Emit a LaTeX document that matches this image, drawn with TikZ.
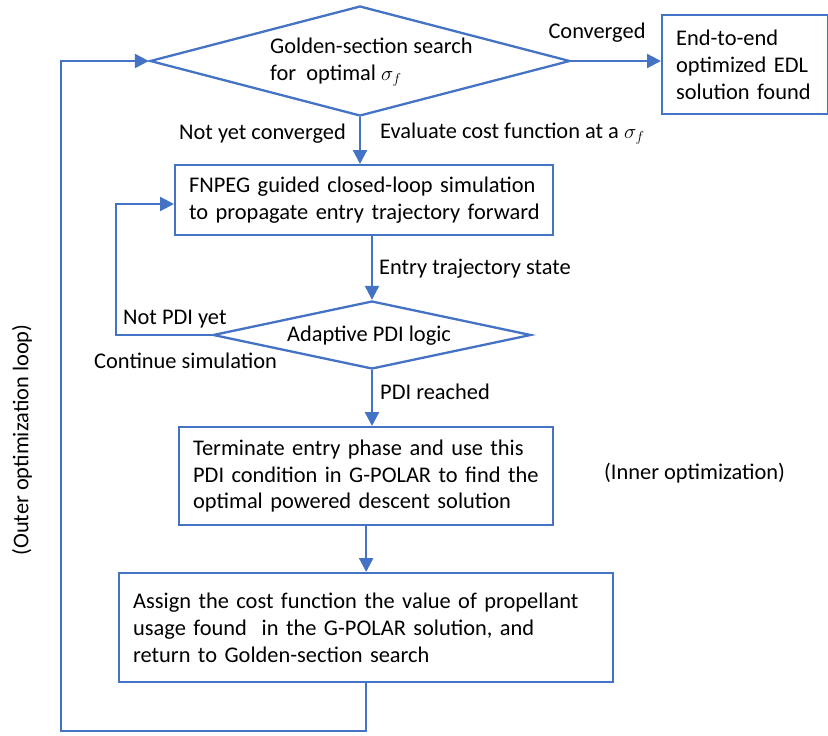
\documentclass[tikz,border=0pt]{standalone}
\usepackage{fontspec}
\setmainfont{Carlito}
\usetikzlibrary{arrows.meta,shapes.geometric}
\definecolor{flow}{RGB}{68,114,196}
\newcommand{\fs}{\fontsize{22.4}{26.7}\selectfont}
% one unbreakable text line inside a process box
\newcommand{\bline}[1]{\mbox{#1}}
\begin{document}
\begin{tikzpicture}[x=1pt,y=-1pt,
  line/.style={draw=flow,line width=2.3pt},
  arr/.style={line,-{Triangle[length=14pt,width=14pt]}},
  box/.style={draw=flow,line width=2.3pt,fill=white,anchor=north west,align=left,
    inner xsep=14pt,inner ysep=0pt,font=\fs},
  decision/.style={draw=flow,line width=2.3pt,fill=white,shape=diamond,inner sep=0pt},
  lbl/.style={font=\fs,inner sep=0pt}]
\useasboundingbox (0,0) rectangle (828,736);

% decisions (outline only, text set separately)
\node[decision,minimum width=420pt,minimum height=110pt] (d1) at (360,61) {};
\node[decision,minimum width=318pt,minimum height=68pt] (d2) at (372,335) {};
\node[lbl,anchor=west,align=left] (d1t) at (270,62)
  {Golden-section search\\for\ \ optimal $\sigma_f$};
\node[lbl] (d2t) at (369,336) {Adaptive PDI logic};

% process boxes
\node[box,minimum width=166pt,minimum height=99pt,text width=138pt] (b1) at (661,14)
  {\bline{End-to-end}\\\bline{optimized EDL}\\\bline{solution found}};
\node[box,minimum width=378pt,minimum height=70pt,text width=350pt] (b2) at (174,164)
  {\bline{FNPEG guided closed-loop simulation}\\\bline{to propagate entry trajectory forward}};
\node[box,minimum width=374pt,minimum height=98pt,text width=346pt] (b3) at (178,426)
  {\bline{Terminate entry phase and use this}\\\bline{PDI condition in G-POLAR to find the}\\\bline{optimal powered descent solution}};
\node[box,minimum width=494pt,minimum height=109pt,text width=466pt] (b4) at (118,572)
  {\bline{Assign the cost function the value of propellant}\\\bline{usage found\ \ in the G-POLAR solution, and}\\\bline{return to Golden-section search}};

% connectors
\coordinate (lb) at (61,731);
\coordinate (lc) at (116,204);
\draw[arr] (d1.east) -- (d1.east -| b1.west);
\draw[arr] (d1.south) -- (d1.south |- b2.north);
\draw[arr] (d2.north |- b2.south) -- (d2.north);
\draw[arr] (d2.west) -| (lc) -- (lc -| b2.west);
\draw[arr] (d2.south) -- (d2.south |- b3.north);
\draw[arr] (b3.south) -- (b4.north);
\draw[arr] (b4.south) |- (lb) |- (d1.west);

% labels
\node[lbl] (t1) at (597,33) {Converged};
\node[lbl,anchor=east] (t2) at (346,134) {Not yet converged};
\node[lbl,anchor=west] (t3) at (380,134) {Evaluate cost function at a $\sigma_f$};
\node[lbl,anchor=west] (t4) at (379,269) {Entry trajectory state};
\node[lbl,anchor=west] (t5) at (123,319) {Not PDI yet};
\node[lbl,anchor=west] (t6) at (94,361) {Continue simulation};
\node[lbl,anchor=west] (t7) at (380,392) {PDI reached};
\node[lbl,anchor=west] (t8) at (604,473) {(Inner optimization)};
\node[lbl,rotate=90] (t9) at (22,440) {(Outer optimization loop)};
\end{tikzpicture}
\end{document}
